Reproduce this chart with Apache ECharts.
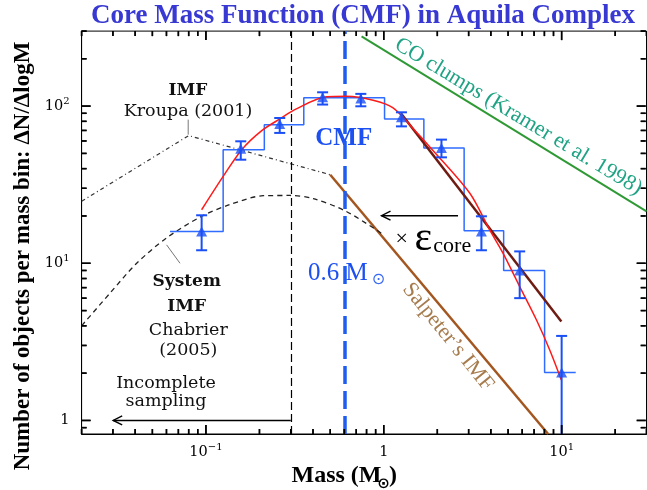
<!DOCTYPE html>
<html><head><meta charset="utf-8">
<script src="https://cdn.jsdelivr.net/npm/echarts@6/dist/echarts.min.js"></script>
<style>html,body{margin:0;padding:0;background:#fff}#c{width:647px;height:490px}</style>
</head><body><div id="c"></div>
<script>
// ---------- axis ticks ----------
const xTickValues = [0.1, 1, 10];
const xTickLabels = ['10^-1', '1', '10^1'];
const yTickValues = [1, 10, 100];
const yTickLabels = ['1', '10^1', '10^2'];

// ---------- CMF histogram (bin edges, counts) ----------
const histEdges = [0.0628, 0.125, 0.213, 0.355, 0.596, 1.01, 1.68, 2.83, 4.72, 8.02, 12.0];
const histCounts = [15.9, 52.8, 76.2, 112.8, 112.8, 82.9, 54.2, 16.1, 9.0, 2.02];

// ---------- CMF data points with error bars ----------
const pointMass = [0.0946, 0.157, 0.26, 0.453, 0.743, 1.257, 2.11, 3.54, 5.81, 10.0];
const pointN    = [15.9, 53.6, 77, 113.8, 111.6, 84.9, 54.2, 15.9, 9.0, 2.02];
const errLow    = [12.1, 45.6, 67.5, 102.3, 99.7, 74.3, 47.2, 12.1, 6.0, 0.5];
const errHigh   = [20.2, 59.7, 84, 122.4, 119.6, 91.3, 61.2, 19.9, 11.9, 3.45];

// ---------- lognormal fit (red) ----------
const fitMass = [0.0946, 0.125, 0.159, 0.206, 0.266, 0.316, 0.476, 0.617, 0.871, 1.128, 1.46, 1.81, 3.04, 3.94, 4.68, 5.81, 7.21, 8.57, 9.96];
const fitN    = [21.9, 35.7, 52.8, 69.8, 84.1, 95.0, 114.5, 115.4, 109, 97.4, 72, 55.2, 28.0, 16.3, 11.6, 7.11, 4.37, 2.81, 1.81];

// ---------- power-law fit (dark red) ----------
const powMass = [1.257, 9.96];
const powN    = [89.2, 4.26];

// ---------- Kroupa IMF (dash-dot) + Salpeter (brown) ----------
const kroupaMass = [0.02, 0.08, 0.5];
const kroupaN    = [24.8, 64.9, 36.6];
const salpMass = [0.5, 8.4];
const salpN    = [36.6, 0.82];

// ---------- Chabrier system IMF (dashed) ----------
const chabMass = [0.02, 0.0289, 0.0408, 0.0601, 0.0946, 0.136, 0.21, 0.296, 0.401, 0.604, 0.91, 0.975];
const chabN    = [4.0, 6.46, 10.0, 14.5, 19.9, 23.6, 26.9, 27.0, 25.8, 21.6, 16.3, 15.4];

// ---------- CO clumps (green) ----------
const coMass = [0.75, 30];
const coN    = [278, 21.4];

// ---------- reference masses ----------
const completenessMass = 0.3;
const peakMass = 0.6;

// ---------- arrows & leader lines [x1,y1,x2,y2] ----------
const arrowLines  = [[0.3, 1.0, 0.0301, 1.0], [2.615, 20.07, 0.971, 20.07]];
const leaderLines = [[0.0795, 82, 0.0795, 65.8], [0.0601, 13.1, 0.0715, 10.0]];

// =====================================================
const SERIF = '"Liberation Serif", "Times New Roman", serif';
const CENT = '"DejaVu Serif", serif';
const zip = (a, b) => a.map((v, i) => [v, b[i]]);
const XMIN = 0.02, XMAX = 30, YMIN = 0.82, YMAX = 300;

function minorTicks(lo, hi) {
  const out = [];
  for (let e = -3; e < 4; e++) for (let k = 2; k <= 9; k++) {
    const v = +(k * Math.pow(10, e)).toPrecision(3);
    if (v >= lo * 0.999 && v <= hi * 1.001) out.push(v);
  }
  return out;
}
function fmt(values, labels) {
  return function (v) {
    const i = values.findIndex(t => Math.abs(Math.log10(t) - Math.log10(v)) < 1e-6);
    if (i < 0) return '';
    const s = labels[i];
    if (s.indexOf('^') < 0) return '{b|' + s + '}';
    const p = s.split('^');
    return '{b|' + p[0] + '}{s|' + p[1].replace('-', '\u2212') + '}';
  };
}
const labelRich = {
  b: { fontFamily: CENT, fontSize: 14.5, color: '#000', lineHeight: 20, verticalAlign: 'middle' },
  s: { fontFamily: CENT, fontSize: 10, color: '#000', lineHeight: 9, verticalAlign: 'top' }
};

const xMinorValues = minorTicks(XMIN, XMAX);
const yMinorValues = minorTicks(YMIN, YMAX);

const histData = [];
histCounts.forEach((c, i) => { histData.push([histEdges[i], c]); histData.push([histEdges[i + 1], c]); });

function segRenderer(withHead) {
  return function (params, api) {
    const p1 = api.coord([api.value(0), api.value(1)]);
    const p2 = api.coord([api.value(2), api.value(3)]);
    const color = withHead ? '#000' : '#777';
    const ch = [{ type: 'line', shape: { x1: p1[0], y1: p1[1], x2: p2[0], y2: p2[1] }, style: { stroke: color, lineWidth: withHead ? 1.4 : 1 } }];
    if (withHead) {
      const a = Math.atan2(p2[1] - p1[1], p2[0] - p1[0]);
      const L = 9, W = 4.5;
      const bx = p2[0] - L * Math.cos(a), by = p2[1] - L * Math.sin(a);
      const nx = -Math.sin(a), ny = Math.cos(a);
      ch.push({ type: 'polyline', shape: { points: [[bx + W * nx, by + W * ny], [p2[0], p2[1]], [bx - W * nx, by - W * ny]] }, style: { stroke: color, lineWidth: 1.4, fill: null } });
    }
    return { type: 'group', children: ch };
  };
}
function errRenderer(params, api) {
  const x = api.value(0);
  const pHi = api.coord([x, api.value(2)]);
  const pLo = api.coord([x, api.value(1)]);
  const bottom = params.coordSys.y + params.coordSys.height;
  const yLo = Math.min(pLo[1], bottom);
  const w = 5.5, st = { stroke: '#1a4ff5', lineWidth: 2 };
  const ch = [
    { type: 'line', shape: { x1: pHi[0], y1: pHi[1], x2: pHi[0], y2: yLo }, style: st },
    { type: 'line', shape: { x1: pHi[0] - w, y1: pHi[1], x2: pHi[0] + w, y2: pHi[1] }, style: st }
  ];
  if (pLo[1] < bottom) ch.push({ type: 'line', shape: { x1: pLo[0] - w, y1: pLo[1], x2: pLo[0] + w, y2: pLo[1] }, style: st });
  return { type: 'group', children: ch };
}
// tick marks drawn with the chart's own scales (all four sides of the frame)
function tickRenderer(isX, len) {
  return function (params, api) {
    const cs = params.coordSys;
    const st = { stroke: '#000', lineWidth: 1.5 };
    const p = api.coord([api.value(0), api.value(1)]);
    if (isX) {
      const b = cs.y + cs.height, t = cs.y;
      return { type: 'group', children: [
        { type: 'line', shape: { x1: p[0], y1: b, x2: p[0], y2: b - len }, style: st },
        { type: 'line', shape: { x1: p[0], y1: t, x2: p[0], y2: t + len }, style: st } ] };
    }
    const l = cs.x, r = cs.x + cs.width - 0.8;
    return { type: 'group', children: [
      { type: 'line', shape: { x1: l, y1: p[1], x2: l + len, y2: p[1] }, style: st },
      { type: 'line', shape: { x1: r, y1: p[1], x2: r - len, y2: p[1] }, style: st } ] };
  };
}
function tickSeries(name, isX, values, len) {
  return { type: 'custom', name: name, renderItem: tickRenderer(isX, len),
    data: values.map(v => isX ? [v, 10] : [1, v]), encode: { x: 0, y: 1 }, silent: true, z: 20 };
}

const lineBase = { type: 'line', showSymbol: false, symbol: 'none', silent: true };

const texts = [
  { type: 'text', x: 363, y: 16, style: { text: 'Core Mass Function (CMF) in Aquila Complex', font: 'bold 27px ' + SERIF, fill: '#3838d2', align: 'center', verticalAlign: 'middle' } },
  { type: 'text', x: 23, y: 256, rotation: Math.PI / 2, style: { text: 'Number of objects per mass bin: \u0394N/\u0394logM', font: 'bold 23px ' + SERIF, fill: '#000', align: 'center', verticalAlign: 'middle' } },
  { type: 'text', x: 381.5, y: 476, style: { text: 'Mass (M', font: 'bold 24px ' + SERIF, fill: '#000', align: 'right', verticalAlign: 'middle' } },
  { type: 'text', x: 383.5, y: 484, style: { text: '\u2299', font: 'bold 15px "DejaVu Sans"', fill: '#000', align: 'center', verticalAlign: 'middle' } },
  { type: 'text', x: 389, y: 476, style: { text: ')', font: 'bold 24px ' + SERIF, fill: '#000', align: 'left', verticalAlign: 'middle' } },
  { type: 'text', x: 188, y: 91, style: { text: 'IMF', font: 'bold 17px ' + CENT, fill: '#111', align: 'center', verticalAlign: 'middle' } },
  { type: 'text', x: 188, y: 111.7, style: { text: 'Kroupa (2001)', font: '17.5px ' + CENT, fill: '#111', align: 'center', verticalAlign: 'middle' } },
  { type: 'text', x: 186.7, y: 281.7, style: { text: 'System', font: 'bold 17px ' + CENT, fill: '#111', align: 'center', verticalAlign: 'middle' } },
  { type: 'text', x: 186.7, y: 306.7, style: { text: 'IMF', font: 'bold 17px ' + CENT, fill: '#111', align: 'center', verticalAlign: 'middle' } },
  { type: 'text', x: 188.3, y: 330, style: { text: 'Chabrier', font: '17.5px ' + CENT, fill: '#111', align: 'center', verticalAlign: 'middle' } },
  { type: 'text', x: 188.3, y: 350, style: { text: '(2005)', font: '17.5px ' + CENT, fill: '#111', align: 'center', verticalAlign: 'middle' } },
  { type: 'text', x: 166, y: 383.3, style: { text: 'Incomplete', font: '17.5px ' + CENT, fill: '#111', align: 'center', verticalAlign: 'middle' } },
  { type: 'text', x: 166, y: 401.7, style: { text: 'sampling', font: '17.5px ' + CENT, fill: '#111', align: 'center', verticalAlign: 'middle' } },
  { type: 'text', x: 343.7, y: 138.3, style: { text: 'CMF', font: 'bold 25px ' + SERIF, fill: '#1d50f0', align: 'center', verticalAlign: 'middle' } },
  { type: 'text', x: 308, y: 273.3, style: { text: '0.6 M', font: '25px ' + SERIF, fill: '#1d50f0', align: 'left', verticalAlign: 'middle' } },
  { type: 'text', x: 378.5, y: 280, style: { text: '\u2299', font: '16px "DejaVu Sans"', fill: '#3a6af5', align: 'center', verticalAlign: 'middle' } },
  { type: 'text', x: 518.3, y: 116.5, rotation: -31.1 * Math.PI / 180, style: { text: 'CO clumps (Kramer et al. 1998)', font: '22px ' + SERIF, fill: '#1fa384', align: 'center', verticalAlign: 'middle' } },
  { type: 'text', x: 448, y: 337, rotation: -51.1 * Math.PI / 180, style: { text: 'Salpeter\u2019s IMF', font: '22px ' + SERIF, fill: '#a67c4e', align: 'center', verticalAlign: 'middle' } },
  { type: 'text', x: 401.7, y: 239.5, style: { text: '\u00d7', font: '22px ' + SERIF, fill: '#000', align: 'center', verticalAlign: 'middle' } },
  { type: 'text', x: 414.5, y: 238.5, style: { text: '\u03b5', font: '42px ' + SERIF, fill: '#000', align: 'left', verticalAlign: 'middle' } },
  { type: 'text', x: 433.3, y: 245.9, style: { text: 'core', font: '22px ' + SERIF, fill: '#000', align: 'left', verticalAlign: 'middle' } }
];

const option = {
  animation: false,
  backgroundColor: '#fff',
  grid: { left: 81.6, top: 31.1, right: 0.5, bottom: 56, show: true, borderColor: '#000', borderWidth: 1, backgroundColor: 'rgba(0,0,0,0)', outerBoundsMode: 'none', containLabel: false },
  xAxis: {
    type: 'log', logBase: 10, min: XMIN, max: XMAX,
    axisLine: { show: true, onZero: false, lineStyle: { color: '#000', width: 1 } },
    axisTick: { show: false },
    axisLabel: { show: true, customValues: xTickValues, formatter: fmt(xTickValues, xTickLabels), rich: labelRich, margin: 8 },
    splitLine: { show: false }, minorTick: { show: false }
  },
  yAxis: {
    type: 'log', logBase: 10, min: YMIN, max: YMAX,
    axisLine: { show: true, onZero: false, lineStyle: { color: '#000', width: 1 } },
    axisTick: { show: false },
    axisLabel: { show: true, customValues: yTickValues, formatter: fmt(yTickValues, yTickLabels), rich: labelRich, margin: 12 },
    splitLine: { show: false }, minorTick: { show: false }
  },
  series: [
    tickSeries('xMajor', true, xTickValues, 9),
    tickSeries('xMinor', true, xMinorValues, 5),
    tickSeries('yMajor', false, yTickValues, 9),
    tickSeries('yMinor', false, yMinorValues, 5),
    Object.assign({}, lineBase, { name: 'CO', data: zip(coMass, coN), lineStyle: { color: '#2f9a35', width: 2 }, z: 2 }),
    Object.assign({}, lineBase, { name: 'Kroupa', data: zip(kroupaMass, kroupaN), lineStyle: { color: '#333', width: 1.2, type: [4, 3, 1, 3] }, z: 2 }),
    Object.assign({}, lineBase, { name: 'Salpeter', data: zip(salpMass, salpN), lineStyle: { color: '#a3561f', width: 2.5 }, z: 2 }),
    Object.assign({}, lineBase, { name: 'Chabrier', data: zip(chabMass, chabN), smooth: 0.3, lineStyle: { color: '#222', width: 1.3, type: [5, 4] }, z: 2 }),
    Object.assign({}, lineBase, { name: 'hist', data: histData, lineStyle: { color: '#2f6cff', width: 1.5 }, z: 3,
      markLine: { symbol: ['none', 'none'], silent: true, label: { show: false }, animation: false,
        data: [ { xAxis: completenessMass, lineStyle: { color: '#000', width: 1.2, type: [8, 4] } },
                { xAxis: peakMass, lineStyle: { color: '#1f5cf0', width: 3.5, type: [18, 7] } } ] } }),
    Object.assign({}, lineBase, { name: 'pow', data: zip(powMass, powN), lineStyle: { color: '#6e1c12', width: 2.5 }, z: 4 }),
    Object.assign({}, lineBase, { name: 'fit', data: zip(fitMass, fitN), smooth: 0.3, lineStyle: { color: '#ff1a1a', width: 1.5 }, z: 5 }),
    { type: 'custom', name: 'arrows', renderItem: segRenderer(true), data: arrowLines, encode: { x: [0, 2], y: [1, 3] }, silent: true, z: 6 },
    { type: 'custom', name: 'leaders', renderItem: segRenderer(false), data: leaderLines, encode: { x: [0, 2], y: [1, 3] }, silent: true, z: 6 },
    { type: 'custom', name: 'err', renderItem: errRenderer, data: pointMass.map((m, i) => [m, errLow[i], errHigh[i]]), encode: { x: 0, y: [1, 2] }, silent: true, z: 7 },
    { type: 'scatter', name: 'pts', data: zip(pointMass, pointN), symbol: 'triangle', symbolSize: [11, 10], itemStyle: { color: '#1a4ff5' }, silent: true, z: 8 }
  ]
};
const chart = echarts.init(document.getElementById('c'));
chart.setOption(option);

// ---- additional tick marks as graphic lines, placed with the chart's pixel conversion ----
const elements = texts.slice();
try {
  const c0 = chart.convertToPixel({ gridIndex: 0 }, [XMIN, YMIN]);
  const c1 = chart.convertToPixel({ gridIndex: 0 }, [XMAX, YMAX]);
  const gl = c0[0], gb = c0[1], gr = c1[0] - 0.8, gt = c1[1];
  const tl = (x1, y1, x2, y2) => ({ type: 'line', z: 50, silent: true, shape: { x1: x1, y1: y1, x2: x2, y2: y2 }, style: { stroke: '#000', lineWidth: 1.5 } });
  const addX = (v, len) => {
    const px = chart.convertToPixel({ gridIndex: 0 }, [v, YMIN])[0];
    elements.push(tl(px, gb, px, gb - len));
    elements.push(tl(px, gt, px, gt + len));
  };
  const addY = (v, len) => {
    const py = chart.convertToPixel({ gridIndex: 0 }, [XMIN, v])[1];
    elements.push(tl(gl, py, gl + len, py));
    elements.push(tl(gr, py, gr - len, py));
  };
  xTickValues.forEach(v => addX(v, 9));
  xMinorValues.forEach(v => addX(v, 5));
  yTickValues.forEach(v => addY(v, 9));
  yMinorValues.forEach(v => addY(v, 5));
} catch (e) { /* ticks also drawn by the custom series */ }
chart.setOption({ graphic: elements });
</script></body></html>
